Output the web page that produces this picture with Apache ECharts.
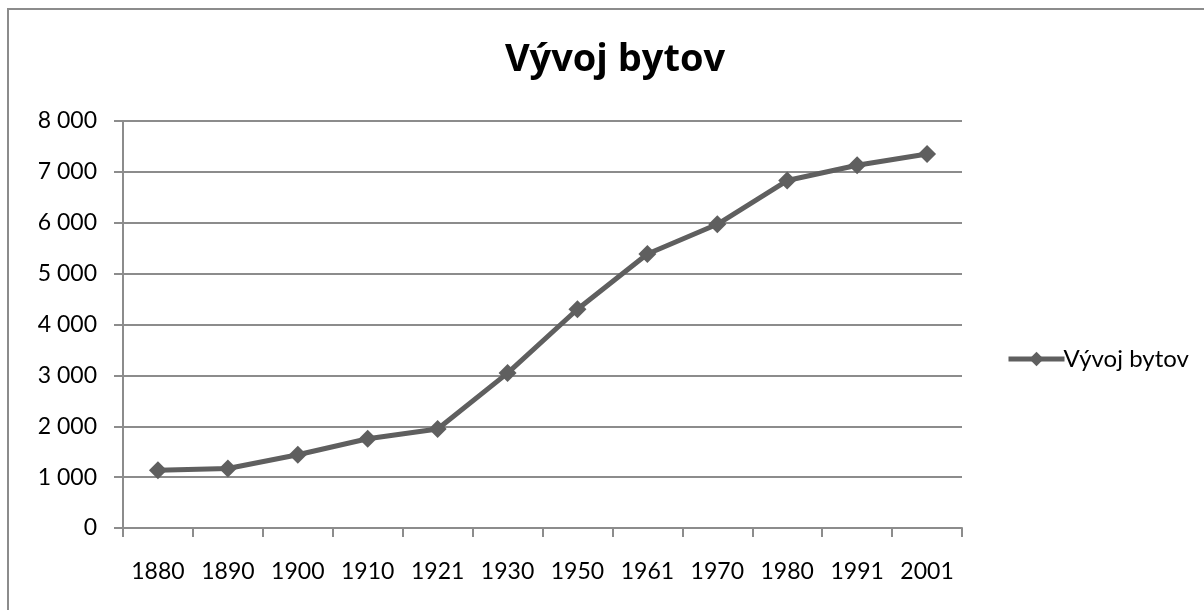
<!DOCTYPE html>
<html>
<head>
<meta charset="utf-8">
<script src="https://cdn.jsdelivr.net/npm/echarts@6/dist/echarts.min.js"></script>
<style>
  html, body { margin: 0; padding: 0; background: #fff; }
  #chart { width: 1204px; height: 610px; }
</style>
</head>
<body>
<div id="chart"></div>
<script>
const years = ["1880", "1890", "1900", "1910", "1921", "1930", "1950", "1961", "1970", "1980", "1991", "2001"];
const flats = [1135, 1170, 1440, 1755, 1945, 3045, 4300, 5385, 5970, 6830, 7130, 7350];
const seriesName = "Vývoj bytov";

const font = "Lato, 'Open Sans', sans-serif";
const lineColor = "#5f5f5f";
const gridColor = "#8c8c8c";

const chart = echarts.init(document.getElementById("chart"));

const option = {
  animation: false,
  backgroundColor: "#fff",
  title: {
    text: "Vývoj bytov",
    left: 610,
    textAlign: "center",
    top: 36,
    textStyle: { fontFamily: "'Open Sans', sans-serif", fontSize: 38, fontWeight: "bold", color: "#000" }
  },
  legend: {
    data: [seriesName],
    orient: "vertical",
    left: 1001,
    top: 342,
    itemWidth: 56,
    itemHeight: 18,
    itemGap: 4,
    lineStyle: { width: 5 },
    textStyle: { fontFamily: font, fontSize: 24, color: "#000", padding: [0, 0, 0, -6] }
  },
  grid: { left: 123, right: 242, top: 121, bottom: 82 },
  xAxis: {
    type: "category",
    data: years,
    boundaryGap: true,
    axisLine: { lineStyle: { color: gridColor, width: 2 } },
    axisTick: { show: true, length: 9, alignWithLabel: false, lineStyle: { color: gridColor, width: 2 } },
    axisLabel: { fontFamily: font, fontSize: 23, color: "#000", margin: 32 }
  },
  yAxis: {
    type: "value",
    min: 0,
    max: 8000,
    interval: 1000,
    axisLine: { show: true, lineStyle: { color: gridColor, width: 2 } },
    axisTick: { show: true, length: 9, lineStyle: { color: gridColor, width: 2 } },
    splitLine: { lineStyle: { color: gridColor, width: 2 } },
    axisLabel: {
      fontFamily: font,
      fontSize: 23,
      color: "#000",
      margin: 26,
      formatter: v => String(v).replace(/\B(?=(\d{3})+(?!\d))/g, " ")
    }
  },
  series: [
    {
      name: seriesName,
      type: "line",
      data: flats,
      symbol: "diamond",
      symbolSize: 18,
      itemStyle: { color: lineColor },
      lineStyle: { color: lineColor, width: 5 }
    }
  ],
  graphic: [
    {
      type: "rect",
      shape: { x: 8, y: 9, width: 1400, height: 800 },
      style: { fill: null, stroke: "#8c8c8c", lineWidth: 2 },
      silent: true
    }
  ]
};

chart.setOption(option);
</script>
</body>
</html>
